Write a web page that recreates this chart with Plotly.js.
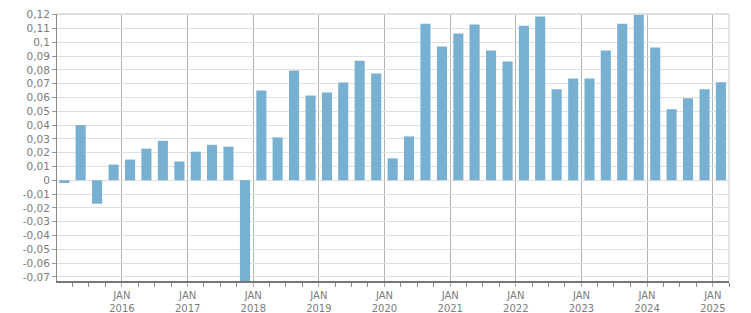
<!DOCTYPE html>
<html>
<head>
<meta charset="utf-8">
<script src="https://cdn.plot.ly/plotly-3.0.1.min.js"></script>
<style>html,body{margin:0;padding:0;background:#fff;}#chart{width:751px;height:313px;}</style>
</head>
<body>
<div id="chart"></div>
<script>
// Quarter start dates (bars are centred on the middle of each quarter)
var quarters = [
  '2015-01-01','2015-04-01','2015-07-01','2015-10-01',
  '2016-01-01','2016-04-01','2016-07-01','2016-10-01',
  '2017-01-01','2017-04-01','2017-07-01','2017-10-01',
  '2018-01-01','2018-04-01','2018-07-01','2018-10-01',
  '2019-01-01','2019-04-01','2019-07-01','2019-10-01',
  '2020-01-01','2020-04-01','2020-07-01','2020-10-01',
  '2021-01-01','2021-04-01','2021-07-01','2021-10-01',
  '2022-01-01','2022-04-01','2022-07-01','2022-10-01',
  '2023-01-01','2023-04-01','2023-07-01','2023-10-01',
  '2024-01-01','2024-04-01','2024-07-01','2024-10-01',
  '2025-01-01'
];
var values = [
  -0.002, 0.040, -0.017, 0.0114,
  0.0150, 0.0229, 0.0286, 0.0136,
  0.0207, 0.0257, 0.0243, -0.080,
  0.0651, 0.0311, 0.0795, 0.0614,
  0.0636, 0.0708, 0.0867, 0.0773,
  0.0159, 0.0318, 0.1135, 0.0969,
  0.1063, 0.1128, 0.0940, 0.0861,
  0.1120, 0.1186, 0.0659, 0.0738,
  0.0738, 0.0940, 0.1135, 0.1200,
  0.0962, 0.0515, 0.0594, 0.0659,
  0.0710
];
var xTickVals = ['2016-01-01','2017-01-01','2018-01-01','2019-01-01','2020-01-01',
                 '2021-01-01','2022-01-01','2023-01-01','2024-01-01','2025-01-01'];
var xTickText = ['JAN<br>2016','JAN<br>2017','JAN<br>2018','JAN<br>2019','JAN<br>2020',
                 'JAN<br>2021','JAN<br>2022','JAN<br>2023','JAN<br>2024','JAN<br>2025'];
var yTickVals = [-0.07,-0.06,-0.05,-0.04,-0.03,-0.02,-0.01,0,0.01,0.02,0.03,0.04,
                 0.05,0.06,0.07,0.08,0.09,0.1,0.11,0.12];
var yTickText = ['-0,07','-0,06','-0,05','-0,04','-0,03','-0,02','-0,01','0','0,01','0,02',
                 '0,03','0,04','0,05','0,06','0,07','0,08','0,09','0,1','0,11','0,12'];

var trace = {
  type: 'bar',
  x: quarters,
  y: values,
  xperiod: 'M3',
  xperiodalignment: 'middle',
  marker: {color: '#78b0d2', line: {width: 0}},
  hoverinfo: 'x+y'
};

var layout = {
  width: 751, height: 313,
  margin: {l: 57, r: 22, t: 14, b: 32, pad: 0},
  paper_bgcolor: '#ffffff',
  plot_bgcolor: '#ffffff',
  showlegend: false,
  bargap: 0.38,
  font: {family: 'DejaVu Sans, Verdana, sans-serif', size: 10, color: '#7c7c7c'},
  xaxis: {
    type: 'date',
    range: ['2015-01-05', '2025-04-01'],
    tickmode: 'array',
    tickvals: xTickVals,
    ticktext: xTickText,
    ticks: 'outside',
    ticklen: 4,
    tickcolor: '#aaaaaa',
    showgrid: true,
    gridcolor: '#b4b4b4',
    gridwidth: 1,
    showline: true,
    linecolor: '#777777',
    linewidth: 2,
    zeroline: false,
    minor: {
      tickmode: 'linear',
      tick0: '2015-01-01',
      dtick: 'M3',
      ticks: 'outside',
      ticklen: 4,
      tickcolor: '#888888',
      showgrid: false
    },
    tickfont: {family: 'DejaVu Sans, Verdana, sans-serif', size: 10, color: '#7c7c7c'},
    fixedrange: true
  },
  yaxis: {
    range: [-0.073, 0.1205],
    tickmode: 'array',
    tickvals: yTickVals,
    ticktext: yTickText,
    ticks: 'outside',
    ticklen: 4,
    tickcolor: '#999999',
    showgrid: true,
    gridcolor: '#e0e0e0',
    gridwidth: 1,
    showline: true,
    linecolor: '#8a8a8a',
    linewidth: 1,
    zeroline: false,
    tickfont: {family: 'DejaVu Sans, Verdana, sans-serif', size: 10.5, color: '#7c7c7c'},
    fixedrange: true
  },
  shapes: [
    {type: 'line', xref: 'paper', yref: 'paper', x0: 0, x1: 1, y0: 1, y1: 1,
     line: {color: '#dedede', width: 2}},
    {type: 'line', xref: 'paper', yref: 'paper', x0: 1, x1: 1, y0: 0, y1: 1,
     line: {color: '#dedede', width: 1.5}}
  ]
};

Plotly.newPlot('chart', [trace], layout, {displayModeBar: false, staticPlot: true});
</script>
</body>
</html>
